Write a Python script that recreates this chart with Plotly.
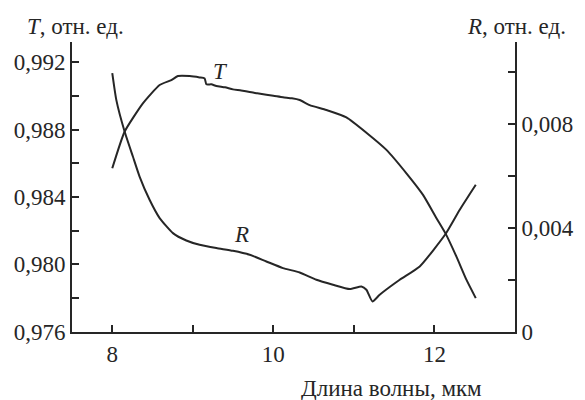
import plotly.graph_objects as go

# Wavelength grid (µm) and transmission T (relative units)
t_wavelength = [8.00, 8.153, 8.380, 8.588, 8.733, 8.815, 8.960, 9.084, 9.147, 9.168,
                9.230, 9.292, 9.400, 9.498, 9.600, 9.706, 9.800, 9.913, 10.000,
                10.119, 10.230, 10.327, 10.451, 10.658, 10.907, 11.155, 11.404,
                11.652, 11.858, 12.025, 12.140, 12.273, 12.398, 12.513]
t_values = [0.98570, 0.98787, 0.98955, 0.99064, 0.99093, 0.99117, 0.99117, 0.99109,
            0.99103, 0.99068, 0.99068, 0.99058, 0.99050, 0.99038, 0.99032, 0.99022,
            0.99015, 0.99006, 0.99000, 0.98991, 0.98985, 0.98975, 0.98945, 0.98916,
            0.98872, 0.98781, 0.98679, 0.98540, 0.98412, 0.98274, 0.98181, 0.98046,
            0.97908, 0.97800]

# Reflection R (relative units)
r_wavelength = [8.00, 8.050, 8.153, 8.256, 8.339, 8.463, 8.588, 8.753, 8.919, 9.084,
                9.292, 9.498, 9.706, 9.913, 10.119, 10.327, 10.534, 10.740, 10.948,
                11.093, 11.155, 11.230, 11.320, 11.569, 11.817, 12.140, 12.314, 12.513]
r_values = [0.009950, 0.008923, 0.007704, 0.006742, 0.005973, 0.005077, 0.004373,
            0.003796, 0.003512, 0.003346, 0.003219, 0.003115, 0.002962, 0.002704,
            0.002450, 0.002281, 0.002000, 0.001808, 0.001642, 0.001742, 0.001615,
            0.001165, 0.001423, 0.002000, 0.002512, 0.003769, 0.004692, 0.005654]

x_ticks = [8, 9, 10, 11, 12]
x_ticktext = ["8", "", "10", "", "12"]
t_ticks = [0.976, 0.978, 0.980, 0.982, 0.984, 0.986, 0.988, 0.990, 0.992]
t_ticktext = ["0,976", "", "0,980", "", "0,984", "", "0,988", "", "0,992"]
r_ticks = [0.0, 0.002, 0.004, 0.006, 0.008, 0.010]
r_ticktext = ["0", "", "0,004", "", "0,008", ""]

INK = "#262626"
FONT = "'Liberation Serif', 'Times New Roman', serif"
SIZE = 23

fig = go.Figure()
fig.add_trace(go.Scatter(x=t_wavelength, y=t_values, mode="lines",
                         line=dict(color=INK, width=2, shape="spline", smoothing=0.5),
                         yaxis="y", showlegend=False))
fig.add_trace(go.Scatter(x=r_wavelength, y=r_values, mode="lines",
                         line=dict(color=INK, width=2, shape="spline", smoothing=0.5),
                         yaxis="y2", showlegend=False))

axis_common = dict(showline=True, linecolor=INK, linewidth=2, ticks="inside",
                   ticklen=7, tickwidth=2, tickcolor=INK, showgrid=False,
                   zeroline=False, tickfont=dict(family=FONT, size=SIZE, color=INK))

label_font = dict(family=FONT, size=SIZE, color=INK)

fig.update_layout(
    width=585, height=400,
    margin=dict(l=72, r=70, t=42, b=68),
    paper_bgcolor="white", plot_bgcolor="white",
    font=dict(family=FONT, color=INK),
    xaxis=dict(range=[7.5, 13.0], tickmode="array", tickvals=x_ticks,
               ticktext=x_ticktext, **axis_common),
    yaxis=dict(range=[0.97599, 0.99319], tickmode="array", tickvals=t_ticks,
               ticktext=t_ticktext, **axis_common),
    yaxis2=dict(range=[-0.00001, 0.01115], tickmode="array", tickvals=r_ticks,
                ticktext=r_ticktext, overlaying="y", side="right", **axis_common),
    annotations=[
        dict(text="<i>T</i>, отн. ед.", xref="paper", yref="paper", x=0.009, y=1.0,
             yshift=16, xanchor="center", yanchor="middle", showarrow=False,
             font=label_font),
        dict(text="<i>R</i>, отн. ед.", xref="paper", yref="paper", x=1.0045, y=1.0,
             yshift=16, xanchor="center", yanchor="middle", showarrow=False,
             font=label_font),
        dict(text="Длина волны, мкм", xref="paper", yref="paper", x=0.7223, y=0,
             yshift=-56, xanchor="center", yanchor="middle", showarrow=False,
             font=label_font),
        dict(text="<i>T</i>", x=9.345, y=0.99147, xref="x", yref="y",
             showarrow=False, font=label_font),
        dict(text="<i>R</i>", x=9.606, y=0.00373, xref="x", yref="y2",
             showarrow=False, font=label_font),
    ],
)

fig.write_html("out.html")
